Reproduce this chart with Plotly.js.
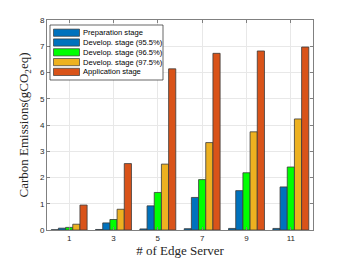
<!DOCTYPE html>
<html><head><meta charset="utf-8">
<script src="https://cdn.plot.ly/plotly-3.0.1.min.js"></script>
<style>html,body{margin:0;padding:0;background:#fff}#c{width:346px;height:260px}</style>
</head><body><div id="c"></div>
<script>
const servers = [1, 3, 5, 7, 9, 11];
const seriesNames = ["Preparation stage", "Develop. stage (95.5%)", "Develop. stage (96.5%)", "Develop. stage (97.5%)", "Application stage"];
const prep    = [0.01, 0.02, 0.04, 0.05, 0.06, 0.06];
const dev955  = [0.07, 0.27, 0.92, 1.24, 1.50, 1.64];
const dev965  = [0.10, 0.40, 1.43, 1.92, 2.18, 2.40];
const dev975  = [0.22, 0.79, 2.51, 3.33, 3.74, 4.23];
const appl    = [0.95, 2.53, 6.14, 6.73, 6.82, 6.97];
const colors  = ["#0072BD", "#0072BD", "#00FF00", "#EDB120", "#D95319"];
const yTicks  = [0, 1, 2, 3, 4, 5, 6, 7, 8];

const values = [prep, dev955, dev965, dev975, appl];
const traces = values.map((v, i) => ({
  type: 'bar', x: servers, y: v, name: seriesNames[i], showlegend: false,
  marker: {color: colors[i], line: {color: '#3a3a3a', width: 0.8}}
}));

// plot area in pixels
const W = 346, H = 260, ML = 47, MR = 33, MT = 20, MB = 30;
const PW = W - ML - MR, PH = H - MT - MB;
const px = x => (x - ML) / PW;
const py = y => (H - MB - y) / PH;

// manual legend (compact, MATLAB style)
const shapes = [{
  type: 'rect', xref: 'paper', yref: 'paper',
  x0: px(50), x1: px(163), y0: py(80), y1: py(25),
  fillcolor: '#fff', line: {color: '#262626', width: 0.7}, layer: 'above'
}];
const annotations = [];
seriesNames.forEach((name, i) => {
  const cy = 32.7 + i * 9.8;
  shapes.push({
    type: 'rect', xref: 'paper', yref: 'paper',
    x0: px(53.5), x1: px(79.5), y0: py(cy + 3.6), y1: py(cy - 3.6),
    fillcolor: colors[i], line: {color: '#3a3a3a', width: 0.7}, layer: 'above'
  });
  annotations.push({
    xref: 'paper', yref: 'paper', x: px(81), y: py(cy),
    xanchor: 'left', yanchor: 'middle', showarrow: false, text: name,
    font: {family: 'Liberation Sans, Arial, sans-serif', size: 7.6, color: '#000'}
  });
});

const axisCommon = {
  showline: true, mirror: 'ticks', linecolor: '#808080', linewidth: 1,
  ticks: 'inside', ticklen: 3, tickcolor: '#808080',
  showgrid: true, gridcolor: '#e8e8e8', gridwidth: 1, zeroline: false,
  tickfont: {family: 'Liberation Sans, Arial, sans-serif', size: 8, color: '#262626'}
};

const layout = {
  width: W, height: H,
  margin: {l: ML, r: MR, t: MT, b: MB},
  paper_bgcolor: '#fff', plot_bgcolor: '#fff',
  barmode: 'group', bargap: 0.19, bargroupgap: 0,
  showlegend: false,
  shapes: shapes, annotations: annotations,
  xaxis: Object.assign({}, axisCommon, {
    range: [0, 12], tickmode: 'array', tickvals: servers, ticktext: servers.map(String),
    title: {text: '# of Edge Server', standoff: 4,
      font: {family: 'Liberation Serif, Times New Roman, serif', size: 13, color: '#262626'}}
  }),
  yaxis: Object.assign({}, axisCommon, {
    range: [0, 8], tickmode: 'array', tickvals: yTicks, ticktext: yTicks.map(String),
    title: {text: 'Carbon Emissions(gCO<sub>2</sub>eq)', standoff: 8,
      font: {family: 'Liberation Serif, Times New Roman, serif', size: 13, color: '#262626'}}
  })
};

Plotly.newPlot('c', traces, layout, {displayModeBar: false, staticPlot: true});
</script></body></html>
